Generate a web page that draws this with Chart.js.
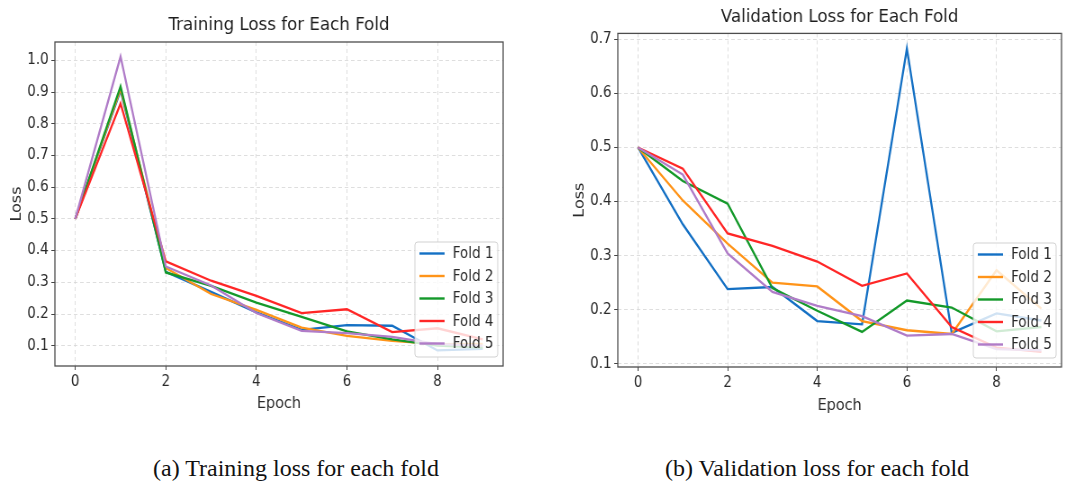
<!DOCTYPE html>
<html lang="en">
<head>
<meta charset="UTF-8">
<title>Loss for Each Fold</title>
<style>
  body {
    margin: 0;
    width: 1070px;
    height: 491px;
    background: #fff;
    position: relative;
    overflow: hidden;
  }
  /* the source figure is slightly squeezed sideways, so each panel is drawn wider and scaled down */
  .panel {
    position: absolute;
    top: 0;
    width: 594px;
    height: 430px;
    transform: scaleX(0.9);
    transform-origin: 0 0;
  }
  #leftPanel { left: 0; }
  #rightPanel { left: 535px; }
  .caption {
    position: absolute;
    top: 455px;
    font-family: 'Liberation Serif', 'Times New Roman', serif;
    font-size: 24px;
    color: #111;
    white-space: nowrap;
    transform: translateX(-50%);
  }
</style>
</head>
<body>

<div class="panel" id="leftPanel"><canvas id="trainChart" width="594" height="430"></canvas></div>
<div class="panel" id="rightPanel"><canvas id="valChart" width="594" height="430"></canvas></div>
<div class="caption" style="left:296px">(a) Training loss for each fold</div>
<div class="caption" style="left:817px">(b) Validation loss for each fold</div>

<script src="https://cdn.jsdelivr.net/npm/chart.js"></script>
<script>
// data
const epochs = [0, 1, 2, 3, 4, 5, 6, 7, 8, 9];
const epochTicks = [0, 2, 4, 6, 8];
const foldNames = ['Fold 1', 'Fold 2', 'Fold 3', 'Fold 4', 'Fold 5'];
const foldColors = ['#1470c4', '#ff9419', '#14992a', '#ff2626', '#b07cc8'];

const trainFold1 = [0.5, 0.905, 0.333, 0.27, 0.205, 0.15, 0.165, 0.163, 0.085, 0.09];
const trainFold2 = [0.5, 0.91, 0.345, 0.263, 0.213, 0.157, 0.131, 0.115, 0.105, 0.106];
const trainFold3 = [0.5, 0.918, 0.331, 0.289, 0.236, 0.191, 0.145, 0.12, 0.1, 0.094];
const trainFold4 = [0.5, 0.864, 0.366, 0.305, 0.257, 0.203, 0.215, 0.143, 0.155, 0.12];
const trainFold5 = [0.5, 1.012, 0.35, 0.29, 0.203, 0.147, 0.14, 0.128, 0.105, 0.1];
const trainTicks = [0.1, 0.2, 0.3, 0.4, 0.5, 0.6, 0.7, 0.8, 0.9, 1.0];

const valFold1 = [0.5, 0.358, 0.238, 0.242, 0.179, 0.173, 0.683, 0.157, 0.193, 0.18];
const valFold2 = [0.5, 0.402, 0.322, 0.25, 0.243, 0.179, 0.162, 0.155, 0.273, 0.202];
const valFold3 = [0.5, 0.438, 0.396, 0.24, 0.198, 0.159, 0.217, 0.204, 0.16, 0.168];
const valFold4 = [0.5, 0.461, 0.341, 0.318, 0.289, 0.244, 0.267, 0.168, 0.13, 0.122];
const valFold5 = [0.5, 0.45, 0.304, 0.233, 0.207, 0.188, 0.152, 0.155, 0.127, 0.125];
const valTicks = [0.1, 0.2, 0.3, 0.4, 0.5, 0.6, 0.7];

const FONT = '"DejaVu Sans", sans-serif';

// box round the axes + matplotlib-like legend in the lower right corner
const frameAndLegend = {
  id: 'frameAndLegend',
  afterDatasetsDraw(chart) {
    const ctx = chart.ctx;
    const a = chart.chartArea;
    ctx.save();
    ctx.strokeStyle = '#4d4d4d';
    ctx.lineWidth = 1.3;
    ctx.strokeRect(a.left, a.top, a.right - a.left, a.bottom - a.top);

    const w = 92, rowH = 22.5, h = 115;
    const x = a.right - 6 - w;
    const y = a.bottom - 9 - h;
    ctx.beginPath();
    ctx.roundRect(x, y, w, h, 3);
    ctx.fillStyle = 'rgba(255,255,255,0.8)';
    ctx.fill();
    ctx.strokeStyle = 'rgba(204,204,204,0.9)';
    ctx.lineWidth = 1;
    ctx.stroke();

    ctx.font = '15px ' + FONT;
    ctx.textBaseline = 'middle';
    chart.data.datasets.forEach((ds, i) => {
      const cy = y + 11.5 + rowH * i;
      ctx.strokeStyle = ds.borderColor;
      ctx.lineWidth = 2.4;
      ctx.beginPath();
      ctx.moveTo(x + 5, cy);
      ctx.lineTo(x + 33, cy);
      ctx.stroke();
      ctx.fillStyle = '#2a2a2a';
      ctx.fillText(ds.label, x + 42, cy + 1);
    });
    ctx.restore();
  }
};

function makeChart(canvasId, title, series, yTicks, yMin, yMax, geo) {
  const datasets = series.map((vals, i) => ({
    label: foldNames[i],
    data: epochs.map((e, j) => ({ x: e, y: vals[j] })),
    borderColor: foldColors[i],
    borderWidth: 2.3,
    pointRadius: 0,
    tension: 0,
    fill: false,
    order: series.length - 1 - i
  }));

  return new Chart(document.getElementById(canvasId), {
    type: 'line',
    data: { datasets: datasets },
    plugins: [frameAndLegend],
    options: {
      responsive: false,
      animation: false,
      events: [],
      layout: {
        padding: { left: geo.padLeft, right: 594 - geo.right, top: 0, bottom: 430 - geo.xBottom }
      },
      plugins: {
        legend: { display: false },
        tooltip: { enabled: false },
        title: {
          display: true,
          text: title,
          fullSize: false,
          color: '#1e1e1e',
          font: { family: FONT, size: 18.5, weight: 'normal' },
          padding: { top: geo.titleTop, bottom: geo.titleBottom }
        }
      },
      scales: {
        x: {
          type: 'linear',
          min: -0.45,
          max: 9.45,
          afterBuildTicks: s => { s.ticks = epochTicks.map(v => ({ value: v })); },
          afterFit: s => { s.height = geo.xBottom - geo.bottom; },
          ticks: {
            color: '#2a2a2a',
            font: { family: FONT, size: 15 },
            padding: 3,
            maxRotation: 0,
            callback: v => String(v)
          },
          grid: { color: '#d6d6d6', lineWidth: 0.8, tickLength: 4, tickColor: '#444', tickWidth: 1 },
          border: { display: false, dash: [4, 3] },
          title: {
            display: true,
            text: 'Epoch',
            color: '#2a2a2a',
            font: { family: FONT, size: 16 },
            padding: 0
          }
        },
        y: {
          min: yMin,
          max: yMax,
          afterBuildTicks: s => { s.ticks = yTicks.map(v => ({ value: v })); },
          afterFit: s => { s.width = geo.left - geo.padLeft; },
          ticks: {
            color: '#2a2a2a',
            font: { family: FONT, size: 15 },
            padding: 3,
            callback: v => v.toFixed(1)
          },
          grid: { color: '#d6d6d6', lineWidth: 0.8, tickLength: 4, tickColor: '#444', tickWidth: 1 },
          border: { display: false, dash: [4, 3] },
          title: {
            display: true,
            text: 'Loss',
            color: '#2a2a2a',
            font: { family: FONT, size: 16 },
            padding: 0
          }
        }
      }
    }
  });
}

makeChart('trainChart', 'Training Loss for Each Fold',
  [trainFold1, trainFold2, trainFold3, trainFold4, trainFold5],
  trainTicks, 0.036, 1.058,
  { padLeft: 9, left: 61, right: 559, bottom: 366, xBottom: 413, titleTop: 14, titleBottom: 5.8 });

makeChart('valChart', 'Validation Loss for Each Fold',
  [valFold1, valFold2, valFold3, valFold4, valFold5],
  valTicks, 0.094, 0.711,
  { padLeft: 40, left: 92, right: 585, bottom: 367, xBottom: 415, titleTop: 6, titleBottom: 5.2 });
</script>
</body>
</html>
